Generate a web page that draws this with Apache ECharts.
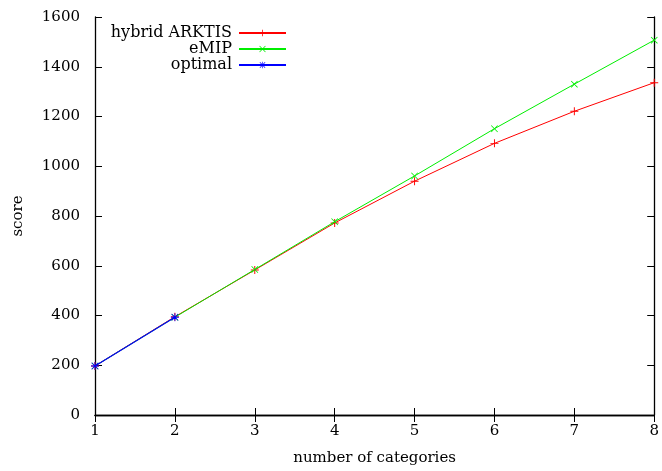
<!DOCTYPE html>
<html><head><meta charset="utf-8">
<script src="https://cdn.jsdelivr.net/npm/echarts@6/dist/echarts.min.js"></script>
<style>html,body{margin:0;padding:0;background:#fff}#c{width:662px;height:471px}</style>
</head><body><div id="c"></div>
<script>
var categories = [1, 2, 3, 4, 5, 6, 7, 8];
var hybridArktis = [197, 395, 583, 772, 940, 1092, 1221, 1336];
var eMIP = [197, 393, 585, 777, 961, 1151, 1330, 1507];
var optimal = [197, 393];
var yTicks = [0, 200, 400, 600, 800, 1000, 1200, 1400, 1600];

var FONT = 'DejaVu Serif';
var FS = 15;
var plusPath = 'path://M4.4,0H5.6V10H4.4ZM0,4.4H10V5.6H0Z';
var crossPath = 'path://M0.8,0L5,4.2L9.2,0L10,0.8L5.8,5L10,9.2L9.2,10L5,5.8L0.8,10L0,9.2L4.2,5L0,0.8Z';
var starPath = 'path://M4.5,0H5.5V10H4.5ZM0,4.5H10V5.5H0ZM1.2,0.5L5,4.3L8.8,0.5L9.5,1.2L5.7,5L9.5,8.8L8.8,9.5L5,5.7L1.2,9.5L0.5,8.8L4.3,5L0.5,1.2Z';

function pts(xs, ys) { return ys.map(function (v, i) { return [xs[i], v]; }); }

var chart = echarts.init(document.getElementById('c'), null, {renderer: 'canvas'});
var axisLine = {show: true, lineStyle: {color: '#000', width: 1.3}};
var tick = {show: true, inside: true, length: 7, lineStyle: {color: '#000'}};
var legendText = {fontFamily: FONT, fontSize: 16, color: '#000', padding: [0, 2, 0, 0]};
var option = {
  animation: false,
  backgroundColor: '#fff',
  grid: {left: 95, right: 4, top: 17, bottom: 54, containLabel: false},
  xAxis: [{
    type: 'value', min: 1, max: 8, interval: 1, position: 'bottom',
    name: 'number of categories', nameLocation: 'middle', nameGap: 36,
    nameTextStyle: {fontFamily: FONT, fontSize: FS, color: '#000'},
    axisLine: axisLine, axisTick: tick,
    axisLabel: {fontFamily: FONT, fontSize: FS, color: '#000', margin: 9},
    splitLine: {show: false}
  }, {
    type: 'value', min: 1, max: 8, interval: 1, position: 'top',
    axisLine: axisLine, axisTick: tick,
    axisLabel: {show: false}, splitLine: {show: false}
  }],
  yAxis: [{
    type: 'value', min: 0, max: 1600, interval: 200, position: 'left',
    name: 'score', nameLocation: 'middle', nameGap: 69, nameRotate: 90,
    nameTextStyle: {fontFamily: FONT, fontSize: FS, color: '#000'},
    axisLine: axisLine, axisTick: tick,
    axisLabel: {fontFamily: FONT, fontSize: FS, color: '#000', margin: 15,
      formatter: function (v) { return yTicks.indexOf(v) >= 0 ? String(v) : ''; }},
    splitLine: {show: false}
  }, {
    type: 'value', min: 0, max: 1600, interval: 200, position: 'right',
    axisLine: axisLine, axisTick: tick,
    axisLabel: {show: false}, splitLine: {show: false}
  }],
  legend: [
    {data: ['hybrid ARKTIS'], orient: 'vertical', align: 'right', right: 375, top: 25,
     itemWidth: 47, itemHeight: 8, itemGap: 0, padding: 0, textStyle: legendText},
    {data: ['eMIP'], orient: 'vertical', align: 'right', right: 375, top: 41,
     itemWidth: 47, itemHeight: 8, itemGap: 0, padding: 0, textStyle: legendText},
    {data: ['optimal'], orient: 'vertical', align: 'right', right: 375, top: 57,
     itemWidth: 47, itemHeight: 8, itemGap: 0, padding: 0, textStyle: legendText}
  ],
  series: [
    {name: 'hybrid ARKTIS', type: 'line', data: pts(categories, hybridArktis),
     symbol: plusPath, symbolSize: 8, showAllSymbol: true,
     lineStyle: {color: '#ff0000', width: 1}, itemStyle: {color: '#ff0000'}, color: '#ff0000', z: 2},
    {name: 'eMIP', type: 'line', data: pts(categories, eMIP),
     symbol: crossPath, symbolSize: 7, showAllSymbol: true,
     lineStyle: {color: '#00ee00', width: 1}, itemStyle: {color: '#00ee00'}, color: '#00ee00', z: 3},
    {name: 'optimal', type: 'line', data: pts(categories, optimal),
     symbol: starPath, symbolSize: 8, showAllSymbol: true,
     lineStyle: {color: '#0000ff', width: 1.2}, itemStyle: {color: '#0000ff'}, color: '#0000ff', z: 4}
  ]
};
chart.setOption(option);
</script></body></html>
